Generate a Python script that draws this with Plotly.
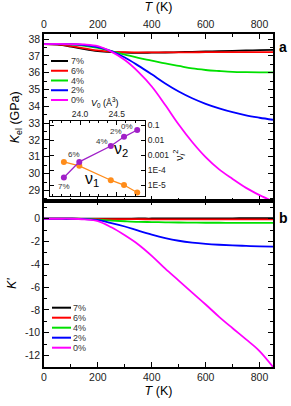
import numpy as np
import plotly.graph_objects as go

# ---------------- data ----------------
T = [0, 50, 100, 150, 200, 250, 300, 350, 400, 450, 500, 550, 600, 650, 700, 750, 800, 850]
series_names = ["7%", "6%", "4%", "2%", "0%"]
series_colors = ["#000000", "#ff0000", "#00e000", "#0000ff", "#ff00ff"]

Kel_7 = [37.70, 37.67, 37.55, 37.40, 37.28, 37.22, 37.19, 37.18, 37.19, 37.20, 37.22, 37.24, 37.26, 37.28, 37.30, 37.32, 37.34, 37.36]
Kel_6 = [37.70, 37.68, 37.58, 37.45, 37.32, 37.25, 37.22, 37.21, 37.21, 37.21, 37.21, 37.21, 37.22, 37.22, 37.22, 37.22, 37.22, 37.22]
Kel_4 = [37.70, 37.70, 37.68, 37.60, 37.47, 37.28, 37.08, 36.88, 36.72, 36.55, 36.40, 36.25, 36.16, 36.10, 36.05, 36.03, 36.02, 36.02]
Kel_2 = [37.70, 37.70, 37.69, 37.64, 37.52, 37.28, 36.90, 36.42, 35.90, 35.36, 34.88, 34.48, 34.15, 33.88, 33.65, 33.46, 33.32, 33.20]
Kel_0 = [37.70, 37.71, 37.70, 37.68, 37.58, 37.25, 36.75, 36.05, 35.18, 34.08, 32.92, 31.88, 30.98, 30.25, 29.68, 29.15, 28.72, 28.35]

Kp_7 = [0, 0, 0, 0, 0, 0.01, 0.01, 0.02, 0.02, 0.03, 0.03, 0.03, 0.04, 0.04, 0.04, 0.05, 0.05, 0.05]
Kp_6 = [0, 0, 0, -0.01, -0.02, -0.03, -0.04, -0.04, -0.05, -0.05, -0.05, -0.05, -0.05, -0.05, -0.05, -0.05, -0.05, -0.05]
Kp_4 = [0, 0, 0, -0.02, -0.08, -0.16, -0.22, -0.27, -0.29, -0.31, -0.33, -0.34, -0.35, -0.35, -0.36, -0.36, -0.36, -0.36]
Kp_2 = [0, 0, 0, -0.03, -0.13, -0.38, -0.68, -1.05, -1.40, -1.70, -1.93, -2.09, -2.20, -2.28, -2.34, -2.38, -2.42, -2.45]
Kp_0 = [0, 0, 0, -0.05, -0.20, -0.75, -1.45, -2.25, -3.25, -4.38, -5.42, -6.48, -7.52, -8.60, -9.60, -10.58, -11.60, -13.00]

Kel_all = [Kel_7, Kel_6, Kel_4, Kel_2, Kel_0]
Kp_all = [Kp_7, Kp_6, Kp_4, Kp_2, Kp_0]

Kp_tickvals = [0, -2, -4, -6, -8, -10, -12]
Kp_ticktext = ["0", "-2", "-4", "-6", "-8", "-10", "-12"]

# inset
V0 = [23.78, 23.99, 24.42, 24.60, 24.78]
inset_labels = ["7%", "6%", "4%", "2%", "0%"]
nu1_sq = [3.5e-4, 1.9e-4, 2.1e-5, 1.0e-5, 3.2e-6]
nu2_sq = [3.2e-5, 3.5e-4, 4.0e-3, 1.65e-2, 4.7e-2]
inset_ytickvals = [0.1, 0.01, 0.001, 1e-4, 1e-5]
inset_yticktext = ["0.1", "0.01", "0.001", "1E-4", "1E-5"]

FONT = "Liberation Sans, Arial, sans-serif"
ORANGE = "#ff8c1a"
PURPLE = "#a020c8"

fig = go.Figure()

for name, col, ys in zip(series_names, series_colors, Kel_all):
    fig.add_trace(go.Scatter(x=T, y=ys, mode="lines", name=name, line=dict(color=col, width=1.8, shape="spline"),
                             xaxis="x", yaxis="y", showlegend=False))
for name, col, ys in zip(series_names, series_colors, Kp_all):
    fig.add_trace(go.Scatter(x=T, y=ys, mode="lines", name=name, line=dict(color=col, width=1.8, shape="spline"),
                             xaxis="x2", yaxis="y2", showlegend=False))

fig.add_trace(go.Scatter(x=V0, y=nu1_sq, mode="lines+markers", line=dict(color=ORANGE, width=1.3),
                         marker=dict(size=6, color=ORANGE), xaxis="x3", yaxis="y3", showlegend=False))
fig.add_trace(go.Scatter(x=V0, y=nu2_sq, mode="lines+markers", line=dict(color=PURPLE, width=1.3),
                         marker=dict(size=6, color=PURPLE), xaxis="x3", yaxis="y3", showlegend=False))

axis_common = dict(showline=True, linecolor="black", linewidth=1.5, ticks="inside", ticklen=5,
                   tickwidth=1.2, tickcolor="black", mirror="allticks", showgrid=False, zeroline=False,
                   automargin=False, tickfont=dict(family=FONT, size=10.5, color="#222"))

fig.update_layout(
    template="none",
    width=291, height=406,
    margin=dict(l=44, r=18, t=34, b=39, pad=0),
    paper_bgcolor="white", plot_bgcolor="white",
    font=dict(family=FONT, color="black"),
    xaxis=dict(axis_common, domain=[0, 1], range=[0, 850], side="top", anchor="y", dtick=200,
               minor=dict(ticks="inside", ticklen=3, dtick=100, tickcolor="black"),
               title=dict(text="<i>T</i> (K)", font=dict(size=12.5), standoff=4)),
    yaxis=dict(axis_common, domain=[0.5, 1], range=[28.4, 38.3], anchor="x", dtick=1,
               minor=dict(ticks="inside", ticklen=3, dtick=0.5, tickcolor="black"),
               title=dict(text="<i>K</i><sub>el</sub> (GPa)", font=dict(size=12.5), standoff=6)),
    xaxis2=dict(axis_common, domain=[0, 1], range=[0, 850], side="bottom", anchor="y2", dtick=200,
                minor=dict(ticks="inside", ticklen=3, dtick=100, tickcolor="black"),
                title=dict(text="<i>T</i> (K)", font=dict(size=12.5), standoff=4)),
    yaxis2=dict(axis_common, domain=[0, 0.5], range=[-13, 1.6], anchor="x2",
                tickvals=Kp_tickvals, ticktext=Kp_ticktext,
                minor=dict(ticks="inside", ticklen=3, dtick=1, tickcolor="black"),
                title=dict(text="<i>K'</i>", font=dict(size=12.5), standoff=6)),
    xaxis3=dict(showline=True, linecolor="black", linewidth=1.2, ticks="inside", ticklen=4, tickcolor="black",
                mirror="allticks", showgrid=False, zeroline=False, automargin=False,
                domain=[0.026, 0.441], range=[23.59, 24.886],
                side="top", anchor="y3", dtick=0.5, tickformat=".1f",
                minor=dict(ticks="inside", ticklen=2, dtick=0.125, tickcolor="black"),
                tickfont=dict(family=FONT, size=8.5, color="#222")),
    yaxis3=dict(showline=True, linecolor="black", linewidth=1.2, ticks="inside", ticklen=4, tickcolor="black",
                mirror="allticks", showgrid=False, zeroline=False, automargin=False,
                domain=[0.5135, 0.7387], type="log",
                range=[-5.73, -0.73], side="right", anchor="x3",
                tickvals=inset_ytickvals, ticktext=inset_yticktext,
                tickfont=dict(family=FONT, size=8.5, color="#222")),
)

ann = []
# panel letters
ann.append(dict(text="<b>a</b>", xref="paper", yref="paper", x=(283 - 44) / 229, y=(367 - 47) / 333,
                xanchor="center", yanchor="middle", showarrow=False, font=dict(size=14)))
ann.append(dict(text="<b>b</b>", xref="paper", yref="paper", x=(283 - 44) / 229, y=(367 - 218) / 333,
                xanchor="center", yanchor="middle", showarrow=False, font=dict(size=14)))

# inset axis titles
ann.append(dict(text="<i>V</i><sub>0</sub> (Å<sup>3</sup>)", xref="x3 domain", yref="y3 domain", x=0.58, y=1,
                xanchor="center", yanchor="bottom", yshift=10, showarrow=False, font=dict(size=9)))
ann.append(dict(text="ν<sub><i>i</i></sub><sup>2</sup>", xref="x3 domain", yref="y3 domain", x=1, y=0.55,
                xanchor="center", yanchor="middle", xshift=34, textangle=-90, showarrow=False,
                font=dict(size=10.5)))

# inset point labels
shifts = [(0, -9), (-5, 7), (-9, 5), (-8, 5), (-10, 3)]
for lab, v, n2, (dx, dy) in zip(inset_labels, V0, nu2_sq, shifts):
    ann.append(dict(text=lab, xref="x3", yref="y3", x=v, y=np.log10(n2), xshift=dx, yshift=dy,
                    showarrow=False, font=dict(size=8, color="#333")))
ann.append(dict(text="ν<sub>2</sub>", xref="x3", yref="y3", x=24.56, y=-2.65, showarrow=False,
                font=dict(size=16, color="black")))
ann.append(dict(text="ν<sub>1</sub>", xref="x3", yref="y3", x=24.17, y=-4.6, showarrow=False,
                font=dict(size=16, color="black")))

shapes = []
# legends (decorative keys)
for i, (name, col) in enumerate(zip(series_names, series_colors)):
    ytop = (367 - (61 + i * 9.75)) / 333
    shapes.append(dict(type="line", xref="paper", yref="paper", x0=(51 - 44) / 229, x1=(68 - 44) / 229,
                       y0=ytop, y1=ytop, line=dict(color=col, width=2)))
    ann.append(dict(text=name, xref="paper", yref="paper", x=(69 - 44) / 229, y=ytop, xanchor="left",
                    yanchor="middle", showarrow=False, font=dict(size=9, color="#333")))
    ybot = (367 - (307.7 + i * 10)) / 333
    shapes.append(dict(type="line", xref="paper", yref="paper", x0=(52 - 44) / 229, x1=(71 - 44) / 229,
                       y0=ybot, y1=ybot, line=dict(color=col, width=2)))
    ann.append(dict(text=name, xref="paper", yref="paper", x=(71 - 44) / 229, y=ybot, xanchor="left",
                    yanchor="middle", showarrow=False, font=dict(size=9, color="#333")))

fig.update_layout(annotations=ann, shapes=shapes)

fig.write_html("out.html", config={"displayModeBar": False},
               post_script="document.body.style.margin='0px';document.body.style.overflow='hidden';")
